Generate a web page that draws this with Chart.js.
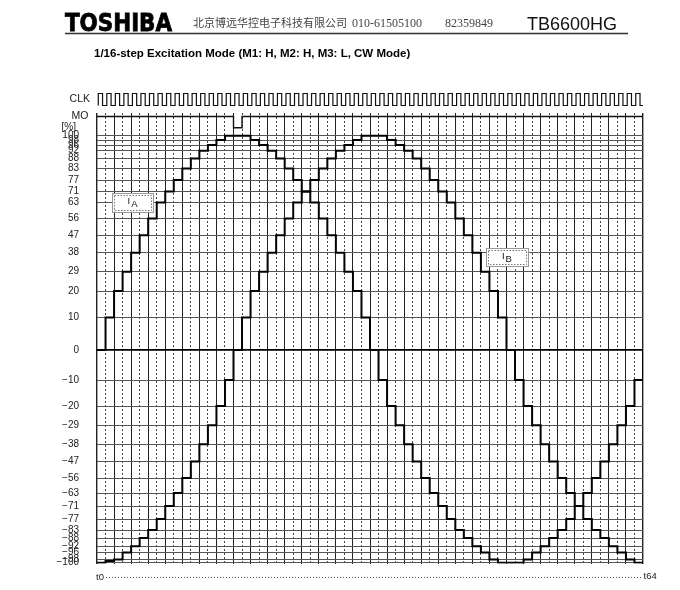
<!DOCTYPE html>
<html>
<head>
<meta charset="utf-8">
<title>TB6600HG 1/16-step Excitation Mode</title>
<script src="https://cdn.jsdelivr.net/npm/chart.js@4.4.1/dist/chart.umd.min.js"></script>
<style>
  html, body { margin: 0; padding: 0; background: #fff; }
  #wrap { width: 680px; height: 590px; }
</style>
</head>
<body>
<div id="wrap"><canvas id="chart" width="680" height="590"></canvas></div>
<script>
// ---- data ----
const STEPS = 64;   // t0 .. t64

// coil currents per clock step, in % (each value holds until the next clock edge)
const iaPct = [0, 10, 20, 29, 38, 47, 56, 63, 71, 77, 83, 88, 92, 96, 98, 100, 100,
  100, 98, 96, 92, 88, 83, 77, 71, 63, 56, 47, 38, 29, 20, 10, 0,
  -10, -20, -29, -38, -47, -56, -63, -71, -77, -83, -88, -92, -96, -98, -100, -100,
  -100, -98, -96, -92, -88, -83, -77, -71, -63, -56, -47, -38, -29, -20, -10];
const ibPct = [-100, -99, -98, -96, -92, -88, -83, -77, -71, -63, -56, -47, -38, -29, -20, -10, 0,
  10, 20, 29, 38, 47, 56, 63, 71, 77, 83, 88, 92, 96, 98, 100, 100,
  100, 98, 96, 92, 88, 83, 77, 71, 63, 56, 47, 38, 29, 20, 10, 0,
  -10, -20, -29, -38, -47, -56, -63, -71, -77, -83, -88, -92, -96, -98, -100];
const iaAtEnd = 0;      // value at t64
const ibAtEnd = -100;

// MO output (1 = high), per step
const moLevel = [1, 1, 1, 1, 1, 1, 1, 1, 1, 1, 1, 1, 1, 1, 1, 1, 0,
  1, 1, 1, 1, 1, 1, 1, 1, 1, 1, 1, 1, 1, 1, 1, 1,
  1, 1, 1, 1, 1, 1, 1, 1, 1, 1, 1, 1, 1, 1, 1, 1,
  1, 1, 1, 1, 1, 1, 1, 1, 1, 1, 1, 1, 1, 1, 1];
const clkPulses = 64;

// tick labels on the current axis
const pctTicks = [100, 98, 96, 92, 88, 83, 77, 71, 63, 56, 47, 38, 29, 20, 10, 0,
  -10, -20, -29, -38, -47, -56, -63, -71, -77, -83, -88, -92, -96, -98, -100];

// ---- layout ----
const PLOT = { left: 97, right: 643, top: 113, bottom: 563.5, zeroY: 350 };
// the diagram is not to scale: height (px) of each tick level above the 0 line
const tickRowPx = [214.3, 210, 205, 199.3, 191.5, 181.5, 170, 158.5, 147.5, 131.5, 114.7, 97.3, 78.3, 59, 32.5, 0,
  -30, -56, -75.3, -94.3, -111.5, -128, -143, -156, -169, -180, -188, -196.3, -202.5, -209.5, -212.7];
const MO_ROW = { high: 233.5, low: 222.3 };
const CLK_ROW = { high: 256.5, low: 244.5 };
const CLK_RISE = 0.15, CLK_FALL = 0.65;

function rowOf(pct) {
  for (let i = 0; i < pctTicks.length - 1; i++) {
    const a = pctTicks[i], b = pctTicks[i + 1];
    if (pct <= a && pct >= b) {
      return tickRowPx[i] + (tickRowPx[i + 1] - tickRowPx[i]) * (a - pct) / (a - b);
    }
  }
  return pct > 0 ? tickRowPx[0] : tickRowPx[tickRowPx.length - 1];
}

function stepPoints(values, endValue) {
  const pts = values.map((v, i) => ({ x: i, y: rowOf(v) }));
  pts.push({ x: STEPS, y: rowOf(endValue) });
  return pts;
}

const moPoints = moLevel.map((v, i) => ({ x: i, y: v ? MO_ROW.high : MO_ROW.low }));
moPoints.push({ x: STEPS, y: MO_ROW.high });

const clkPoints = [];
for (let k = 0; k < clkPulses; k++) {
  clkPoints.push({ x: k + CLK_RISE, y: CLK_ROW.low }, { x: k + CLK_RISE, y: CLK_ROW.high },
                 { x: k + CLK_FALL, y: CLK_ROW.high }, { x: k + CLK_FALL, y: CLK_ROW.low });
}
clkPoints.push({ x: STEPS, y: CLK_ROW.low });

const minus = s => String(s).replace('-', '\u2212');

// ---- text, labels and boxes ----
const sheetText = {
  id: 'sheetText',
  afterDraw(chart) {
    const ctx = chart.ctx;
    const xs = chart.scales.x, ys = chart.scales.y;
    ctx.save();
    ctx.textBaseline = 'alphabetic';
    ctx.textAlign = 'left';

    // header
    ctx.fillStyle = '#000';
    ctx.font = 'bold 24px "DejaVu Sans"';
    const w = ctx.measureText('TOSHIBA').width;
    ctx.save();
    ctx.translate(65, 31);
    ctx.scale(107 / w, 1);
    ctx.strokeStyle = '#000';
    ctx.lineWidth = 0.8;
    ctx.fillText('TOSHIBA', 0, 0);
    ctx.strokeText('TOSHIBA', 0, 0);
    ctx.restore();

    ctx.fillStyle = '#444';
    ctx.font = '11px "Noto Sans CJK SC"';
    ctx.fillText('北京博远华控电子科技有限公司', 193, 27);
    ctx.font = '12px "Liberation Serif"';
    ctx.fillText('010-61505100', 352, 27);
    ctx.fillText('82359849', 445, 27);

    ctx.fillStyle = '#111';
    ctx.font = '18px "Liberation Sans"';
    ctx.fillText('TB6600HG', 527, 30);

    ctx.strokeStyle = '#333';
    ctx.lineWidth = 1.3;
    ctx.beginPath();
    ctx.moveTo(65, 33.5);
    ctx.lineTo(628, 33.5);
    ctx.stroke();

    ctx.fillStyle = '#000';
    ctx.font = 'bold 11.5px "Liberation Sans"';
    ctx.fillText('1/16-step Excitation Mode (M1: H, M2: H, M3: L, CW Mode)', 94, 57, 318);

    // signal labels
    ctx.fillStyle = '#222';
    ctx.textAlign = 'right';
    ctx.textBaseline = 'middle';
    ctx.font = '10.5px "Liberation Sans"';
    ctx.fillText('CLK', 90, ys.getPixelForValue((CLK_ROW.high + CLK_ROW.low) / 2));
    ctx.fillText('MO', 88.5, ys.getPixelForValue(MO_ROW.high));
    ctx.font = '10px "Liberation Sans"';
    ctx.fillText('[%]', 76, 127);

    // time axis
    ctx.textAlign = 'left';
    ctx.font = '9.5px "Liberation Sans"';
    ctx.fillText('t0', 96, 577);
    ctx.fillText('t' + STEPS, xs.getPixelForValue(STEPS) + 0.5, 576);
    ctx.strokeStyle = '#555';
    ctx.lineWidth = 1;
    ctx.setLineDash([1, 2]);
    ctx.beginPath();
    ctx.moveTo(106, 577.5);
    ctx.lineTo(xs.getPixelForValue(STEPS) - 1, 577.5);
    ctx.stroke();
    ctx.setLineDash([]);

    // current name boxes
    const box = (x0, x1, y0, y1, sub) => {
      const l = xs.getPixelForValue(x0), r = xs.getPixelForValue(x1);
      const t = ys.getPixelForValue(y0), b = ys.getPixelForValue(y1);
      ctx.fillStyle = '#fff';
      ctx.fillRect(l, t, r - l, b - t);
      ctx.strokeStyle = '#999';
      ctx.lineWidth = 1;
      ctx.strokeRect(Math.round(l) + 0.5, Math.round(t) + 0.5, Math.round(r - l), Math.round(b - t));
      ctx.setLineDash([1.5, 1.5]);
      ctx.strokeStyle = '#777';
      ctx.strokeRect(Math.round(l) + 2.5, Math.round(t) + 2.5, Math.round(r - l) - 4, Math.round(b - t) - 4);
      ctx.setLineDash([]);
      const cx = (l + r) / 2, cy = (t + b) / 2;
      ctx.fillStyle = '#111';
      ctx.textBaseline = 'alphabetic';
      ctx.textAlign = 'left';
      ctx.font = '9.5px "Liberation Sans"';
      const wi = ctx.measureText('I').width;
      const ws = ctx.measureText(sub).width;
      const sx = cx - (wi + ws + 1) / 2;
      ctx.fillText('I', sx, cy + 2);
      ctx.fillText(sub, sx + wi + 1, cy + 4.5);
    };
    box(1.76, 6.57, 157, 138.3, 'A');
    box(45.6, 50.5, 101.7, 84, 'B');

    ctx.restore();
  }
};

const ctx = document.getElementById('chart').getContext('2d');
new Chart(ctx, {
  type: 'line',
  data: {
    datasets: [
      { label: 'IA', data: stepPoints(iaPct, iaAtEnd), stepped: 'before', borderColor: '#000', borderWidth: 2 },
      { label: 'IB', data: stepPoints(ibPct, ibAtEnd), stepped: 'before', borderColor: '#000', borderWidth: 2 },
      { label: 'MO', data: moPoints, stepped: 'before', borderColor: '#111', borderWidth: 1.4, clip: false },
      { label: 'CLK', data: clkPoints, borderColor: '#111', borderWidth: 1.2, clip: false }
    ]
  },
  options: {
    responsive: false,
    animation: false,
    events: [],
    elements: { point: { radius: 0 }, line: { tension: 0, borderJoinStyle: 'miter' } },
    layout: { padding: { left: 0, right: 680 - PLOT.right, top: PLOT.top, bottom: 590 - PLOT.bottom } },
    plugins: { legend: { display: false }, tooltip: { enabled: false }, title: { display: false } },
    scales: {
      x: {
        type: 'linear',
        min: 0,
        max: STEPS,
        afterBuildTicks: s => { s.ticks = Array.from({ length: STEPS + 1 }, (_, i) => ({ value: i })); },
        afterFit: s => { s.height = 0; },
        ticks: { display: false },
        grid: {
          drawTicks: false,
          color: c => (c.tick && c.tick.value % 2) ? '#444' : '#222',
          lineWidth: c => (c.tick && (c.tick.value === 0 || c.tick.value === STEPS)) ? 1.4 : 1
        },
        border: { display: false, dash: c => (c.tick && c.tick.value % 2) ? [2, 2] : [] }
      },
      y: {
        type: 'linear',
        min: PLOT.zeroY - PLOT.bottom,
        max: PLOT.zeroY - PLOT.top,
        afterBuildTicks: s => { s.ticks = tickRowPx.map(v => ({ value: v })); },
        afterFit: s => { s.width = PLOT.left; },
        ticks: {
          autoSkip: false,
          padding: 18,
          color: '#222',
          font: { family: '"Liberation Sans"', size: 10 },
          callback: (v, i) => minus(pctTicks[i])
        },
        grid: {
          drawTicks: false,
          color: c => (c.tick && c.tick.value === 0) ? '#000' : '#555',
          lineWidth: c => (c.tick && c.tick.value === 0) ? 1.8 : 1
        },
        border: { display: false }
      }
    }
  },
  plugins: [sheetText]
});
</script>
</body>
</html>
